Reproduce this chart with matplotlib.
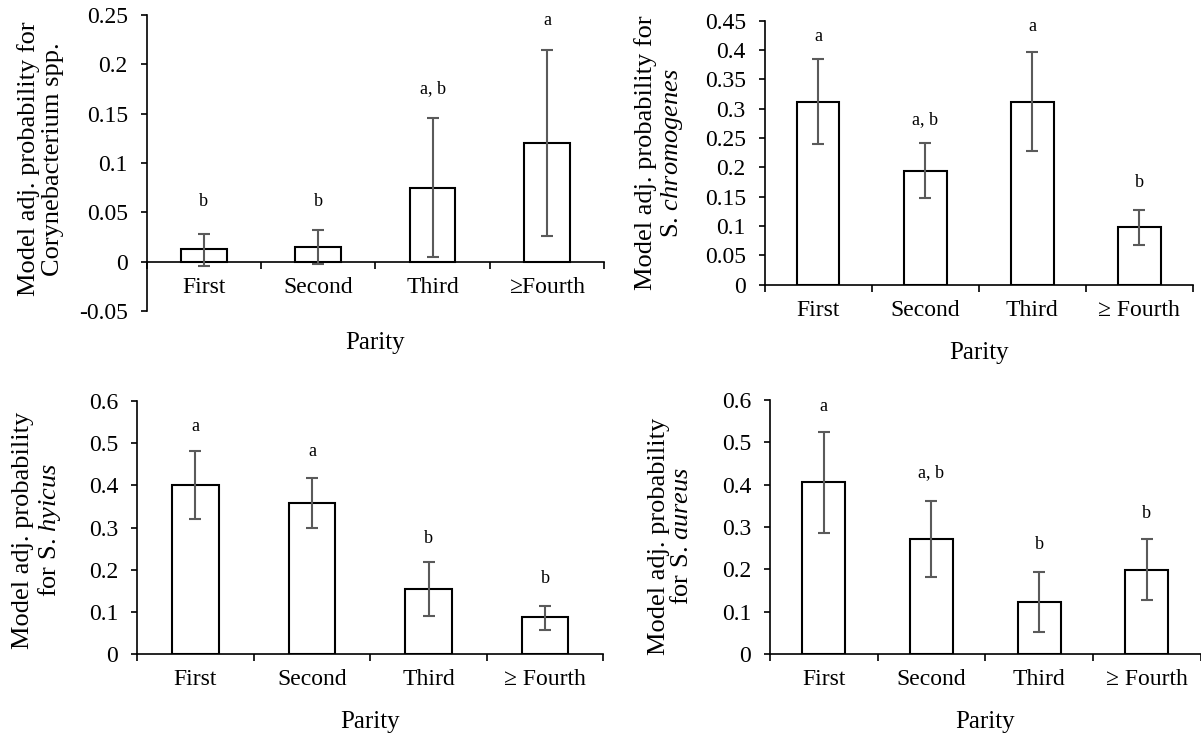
import numpy as np
import matplotlib
matplotlib.use("Agg")
import matplotlib.pyplot as plt

plt.rcParams.update({
    "font.family": "Liberation Serif",
    "mathtext.fontset": "custom",
    "mathtext.rm": "Liberation Serif",
    "mathtext.it": "Liberation Serif:italic",
    "font.size": 17,
})

parity = ["First", "Second", "Third", "\u2265 Fourth"]
parity_p1 = ["First", "Second", "Third", "\u2265Fourth"]

# Corynebacterium spp.
coryne = [0.0125, 0.0152, 0.075, 0.1206]
coryne_hi = [0.028, 0.0324, 0.1456, 0.215]
coryne_lo = [-0.004, -0.002, 0.0047, 0.0257]
coryne_let = ["b", "b", "a, b", "a"]
coryne_let_y = [0.0615, 0.0615, 0.175, 0.244]

# S. chromogenes
chrom = [0.312, 0.194, 0.312, 0.098]
chrom_hi = [0.384, 0.241, 0.396, 0.127]
chrom_lo = [0.240, 0.147, 0.228, 0.068]
chrom_let = ["a", "a, b", "a", "b"]
chrom_let_y = [0.423, 0.281, 0.440, 0.174]

# S. hyicus
hyicus = [0.401, 0.358, 0.155, 0.087]
hyicus_hi = [0.481, 0.417, 0.219, 0.114]
hyicus_lo = [0.321, 0.300, 0.089, 0.058]
hyicus_let = ["a", "a", "b", "b"]
hyicus_let_y = [0.540, 0.480, 0.275, 0.180]

# S. aureus
aureus = [0.406, 0.272, 0.124, 0.199]
aureus_hi = [0.524, 0.362, 0.194, 0.271]
aureus_lo = [0.287, 0.182, 0.053, 0.127]
aureus_let = ["a", "a, b", "b", "b"]
aureus_let_y = [0.584, 0.429, 0.258, 0.333]

panels = [
    dict(pos=[0.122, 0.5797, 0.381, 0.400], vals=coryne, hi=coryne_hi, lo=coryne_lo,
         let=coryne_let, let_y=coryne_let_y, ylim=(-0.05, 0.25), step=0.05,
         ylabel="Model adj. probability for\nCorynebacterium spp.", labs=parity_p1,
         lx=-0.231, ly=0.513, px=-0.108),
    dict(pos=[0.6366, 0.6153, 0.3565, 0.3568], vals=chrom, hi=chrom_hi, lo=chrom_lo,
         let=chrom_let, let_y=chrom_let_y, ylim=(0, 0.45), step=0.05,
         ylabel="Model adj. probability for\nS. $\\mathit{chromogenes}$", labs=parity,
         lx=-0.245, ly=0.5, px=-0.259),
    dict(pos=[0.1141, 0.1162, 0.3883, 0.3419], vals=hyicus, hi=hyicus_hi, lo=hyicus_lo,
         let=hyicus_let, let_y=hyicus_let_y, ylim=(0, 0.6), step=0.1,
         ylabel="Model adj. probability\nfor S. $\\mathit{hyicus}$", labs=parity,
         lx=-0.2135, ly=0.488, px=-0.269),
    dict(pos=[0.6411, 0.1162, 0.3585, 0.3432], vals=aureus, hi=aureus_hi, lo=aureus_lo,
         let=aureus_let, let_y=aureus_let_y, ylim=(0, 0.6), step=0.1,
         ylabel="Model adj. probability\nfor S. $\\mathit{aureus}$", labs=parity,
         lx=-0.231, ly=0.465, px=-0.268),
]

fig = plt.figure(figsize=(12.01, 7.40), dpi=100)

for p in panels:
    ax = fig.add_axes(p["pos"])
    x = np.arange(4)
    vals = np.array(p["vals"])
    yerr = [vals - np.array(p["lo"]), np.array(p["hi"]) - vals]
    ax.bar(x, vals, width=0.4, color="white", edgecolor="black", linewidth=1.5, zorder=2)
    ax.errorbar(x, vals, yerr=yerr, fmt="none", ecolor="#5a5a5a", elinewidth=1.5,
                capsize=4.5, capthick=1.5, zorder=3)
    for xi, t, ty in zip(x, p["let"], p["let_y"]):
        ax.text(xi, ty, t, ha="center", va="center", fontsize=13)

    ax.set_xlim(-0.5, 3.5)
    ax.set_ylim(*p["ylim"])
    ticks = np.arange(p["ylim"][0], p["ylim"][1] + p["step"] / 2, p["step"])
    ax.set_yticks(ticks)
    ax.set_yticklabels([("%g" % round(t, 2)) for t in ticks], fontsize=17)
    ax.tick_params(axis="y", direction="out", length=4.5, width=1.2, pad=9)

    ax.spines["top"].set_visible(False)
    ax.spines["right"].set_visible(False)
    ax.spines["left"].set_linewidth(1.2)
    ax.spines["bottom"].set_linewidth(1.2)
    ax.spines["bottom"].set_position(("data", 0))

    ax.set_xticks(x)
    ax.set_xticklabels(p["labs"], fontsize=17)
    ax.set_xticks(np.arange(-0.5, 4.0, 1.0), minor=True)
    ax.tick_params(axis="x", which="major", length=0, pad=11)
    ax.tick_params(axis="x", which="minor", direction="out", length=5, width=1.2)

    ax.set_ylabel(p["ylabel"], fontsize=19, linespacing=1.1, va="center")
    ax.yaxis.set_label_coords(p["lx"], p["ly"])
    ax.text(0.5, p["px"], "Parity", transform=ax.transAxes, fontsize=18,
            ha="center", va="center")

fig.savefig("out.png", dpi=100)
